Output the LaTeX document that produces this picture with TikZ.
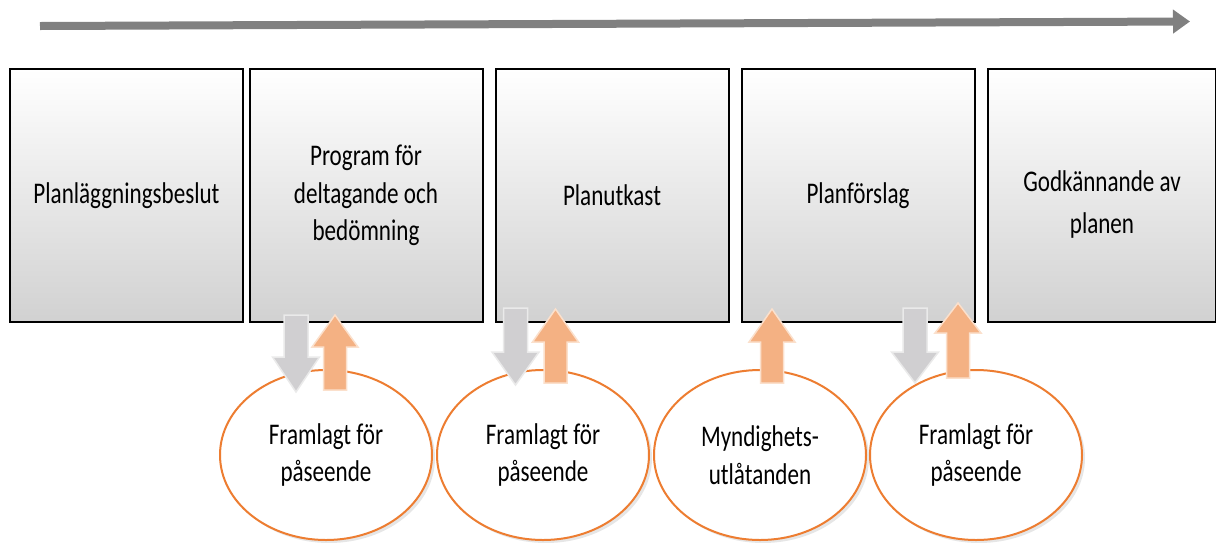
\documentclass[tikz,border=0pt]{standalone}
\usepackage{fontspec}
\setmainfont{Carlito}[FakeStretch=0.77]
\usetikzlibrary{arrows.meta, shapes.geometric, shadows}

\definecolor{stageorange}{RGB}{237,125,49}
\definecolor{uporange}{RGB}{244,177,131}
\definecolor{upedge}{RGB}{251,224,204}
\definecolor{downgray}{RGB}{208,207,209}
\definecolor{downedge}{RGB}{234,234,234}

\tikzset{
  stagebox/.style={rectangle, draw=black, line width=2pt, top color=white,
    bottom color=black!18, minimum width=233pt, minimum height=253pt,
    align=center, inner sep=0pt},
  hearing/.style={ellipse, draw=stageorange, line width=2pt, fill=white,
    minimum width=212pt, minimum height=170pt, inner sep=0pt, align=center,
    drop shadow={opacity=0.2, shadow xshift=3pt, shadow yshift=-3pt}},
  downarr/.style={fill=downgray, draw=downedge, line width=1.5pt},
  uparr/.style={fill=uporange, draw=upedge, line width=1.5pt}
}

\begin{document}
\begin{tikzpicture}[x=1pt, y=-1pt, font=\fontsize{30}{37.5}\selectfont]
\useasboundingbox (0,0) rectangle (1216,542);

% time line
\coordinate (tl-start) at (40,26);
\coordinate (tl-end)   at (1190,21.5);
\draw [black!50, line width=8pt, -{Triangle[length=17pt,width=23pt]}] (tl-start) -- (tl-end);

% stages
\node [stagebox] (s1) at (126.5,195.5)  {Planläggningsbeslut};
\node [stagebox] (s2) at (366,195.5)    {Program för\\deltagande och\\bedömning};
\node [stagebox] (s3) at (612,195.5)    {Planutkast};
\node [stagebox] (s4) at (858,195.5)    {Planförslag};
\node [stagebox, minimum width=228pt] (s5) at (1102,195.5)
      {\raisebox{4pt}[0pt][0pt]{\parbox[t]{210pt}{\centering\fontsize{30}{42}\selectfont
       Godkännande av\\planen}}};

% hearings
\node [hearing] (h1) at (326,455) {Framlagt för\\påseende};
\node [hearing] (h2) at (543,455) {Framlagt för\\påseende};
\node [hearing] (h3) at (760,455) {Myndighets-\\utlåtanden};
\node [hearing] (h4) at (976,455) {Framlagt för\\påseende};

% material out
\foreach \cx/\ya/\yb/\yc in {296/315/357/392, 515.5/308/352/385, 915/308/352/383} {
  \filldraw [downarr] (\cx-12,\ya) -- (\cx+12,\ya) -- (\cx+12,\yb) -- (\cx+23.5,\yb)
    -- (\cx,\yc) -- (\cx-23.5,\yb) -- (\cx-12,\yb) -- cycle;
}
% opinions back
\foreach \cx/\ya/\yb/\yc in {335/390/347/315, 555.5/383/342/309, 772/383/342/309, 958/378/333/303} {
  \filldraw [uparr] (\cx-11.5,\ya) -- (\cx+11.5,\ya) -- (\cx+11.5,\yb) -- (\cx+23,\yb)
    -- (\cx,\yc) -- (\cx-23,\yb) -- (\cx-11.5,\yb) -- cycle;
}
\end{tikzpicture}
\end{document}
